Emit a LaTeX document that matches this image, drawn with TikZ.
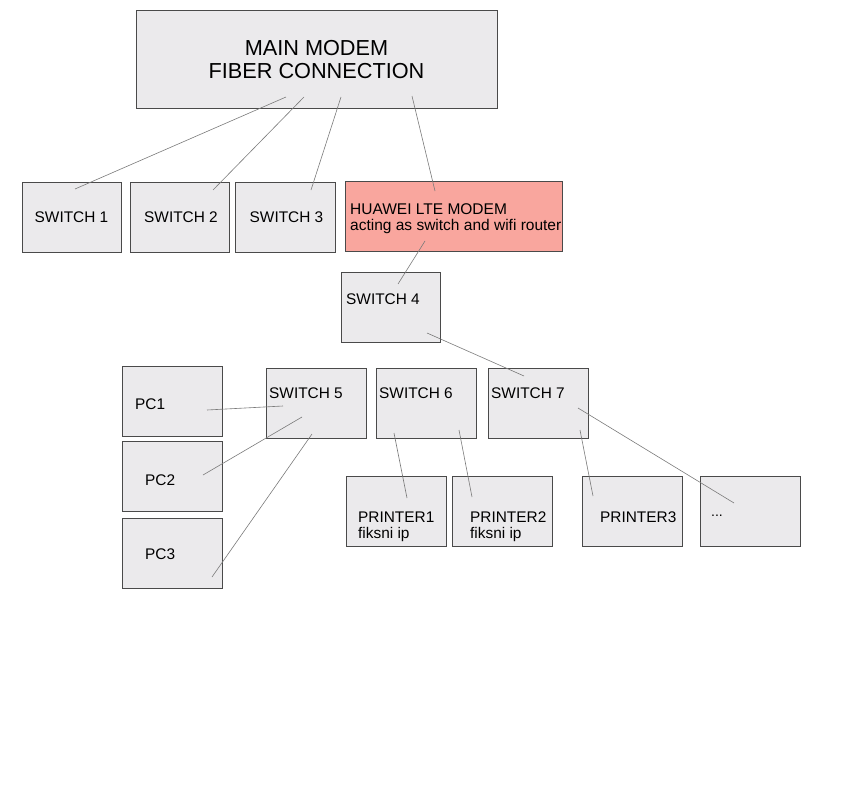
\documentclass[tikz,border=0pt]{standalone}
\usepackage{fontspec}
\setmainfont{Liberation Sans}
\definecolor{boxfill}{HTML}{EBEAEC}
\definecolor{boxdraw}{HTML}{4A4A4A}
\definecolor{lte}{HTML}{F9A69E}
\definecolor{wire}{HTML}{7A7A7A}
\tikzset{
  box/.style={draw=boxdraw, fill=boxfill, line width=0.9pt, rectangle, inner sep=0pt, anchor=north west},
  txt/.style={inner sep=0pt, font=\fontsize{15.4}{16}\selectfont, text=black},
  wireline/.style={draw=wire, line width=0.6pt},
}
\begin{document}
\begin{tikzpicture}[x=1pt,y=-1pt]
\useasboundingbox (0,0) rectangle (862,800);
% boxes
\node[box, minimum width=361pt, minimum height=98pt] (main) at (136,10) {};
\node[box, minimum width=99pt, minimum height=70pt] (sw1) at (22,182) {};
\node[box, minimum width=99pt, minimum height=70pt] (sw2) at (130,182) {};
\node[box, minimum width=100pt, minimum height=70pt] (sw3) at (235,182) {};
\node[box, fill=lte, minimum width=217pt, minimum height=70pt] (lte) at (345,181) {};
\node[box, minimum width=99pt, minimum height=70pt] (sw4) at (341,272) {};
\node[box, minimum width=100pt, minimum height=70pt] (sw5) at (266,368) {};
\node[box, minimum width=100pt, minimum height=70pt] (sw6) at (376,368) {};
\node[box, minimum width=100pt, minimum height=70pt] (sw7) at (488,368) {};
\node[box, minimum width=100pt, minimum height=70pt] (pc1) at (122,366) {};
\node[box, minimum width=100pt, minimum height=70pt] (pc2) at (122,441) {};
\node[box, minimum width=100pt, minimum height=70pt] (pc3) at (122,518) {};
\node[box, minimum width=100pt, minimum height=70pt] (pr1) at (346,476) {};
\node[box, minimum width=100pt, minimum height=70pt] (pr2) at (452,476) {};
\node[box, minimum width=100pt, minimum height=70pt] (pr3) at (582,476) {};
\node[box, minimum width=100pt, minimum height=70pt] (more) at (700,476) {};
% texts
\node[txt, font=\fontsize{21.7}{23}\selectfont, align=center] (maintxt) at (316.5,60) {MAIN MODEM\\FIBER CONNECTION};
\node[txt, anchor=base] (sw1txt) at (71.5,222) {SWITCH 1};
\node[txt, anchor=base] (sw2txt) at (181,222) {SWITCH 2};
\node[txt, anchor=base] (sw3txt) at (286.5,222) {SWITCH 3};
\node[txt, anchor=base west, font=\fontsize{15.5}{16}\selectfont] (ltetxt1) at (350,214.5) {HUAWEI LTE MODEM};
\node[txt, anchor=base west, font=\fontsize{15.5}{16}\selectfont] (ltetxt2) at (350,230.5) {acting as switch and wifi router};
\node[txt, anchor=base west] (sw4txt) at (346,304.5) {SWITCH 4};
\node[txt, anchor=base west] (sw5txt) at (269,398.5) {SWITCH 5};
\node[txt, anchor=base west] (sw6txt) at (379,398.5) {SWITCH 6};
\node[txt, anchor=base west] (sw7txt) at (491,398.5) {SWITCH 7};
\node[txt, anchor=base west] (pc1txt) at (135,409.5) {PC1};
\node[txt, anchor=base west] (pc2txt) at (145,485.5) {PC2};
\node[txt, anchor=base west] (pc3txt) at (145,559.5) {PC3};
\node[txt, anchor=base west] (pr1txt1) at (358,522.5) {PRINTER1};
\node[txt, anchor=base west] (pr1txt2) at (358,538.5) {fiksni ip};
\node[txt, anchor=base west] (pr2txt1) at (470,522.5) {PRINTER2};
\node[txt, anchor=base west] (pr2txt2) at (470,538.5) {fiksni ip};
\node[txt, anchor=base west] (pr3txt) at (600,522.5) {PRINTER3};
\node[txt, anchor=base west, font=\fontsize{14}{14}\selectfont] (moretxt) at (711,516) {...};
% connector end points
\coordinate (m1) at (286,97);  \coordinate (s1) at (75,189);
\coordinate (m2) at (304,97);  \coordinate (s2) at (213,190);
\coordinate (m3) at (341,97);  \coordinate (s3) at (311,190);
\coordinate (m4) at (412,96);  \coordinate (l1) at (435,191);
\coordinate (l2) at (425,241); \coordinate (s4a) at (398,284);
\coordinate (s4b) at (427,333); \coordinate (s7a) at (524,376);
\coordinate (p1) at (207,410); \coordinate (s5a) at (283,406);
\coordinate (p2) at (203,475); \coordinate (s5b) at (302,417);
\coordinate (p3) at (212,577); \coordinate (s5c) at (312,434);
\coordinate (s6a) at (394,433); \coordinate (r1) at (407,498);
\coordinate (s6b) at (459,430); \coordinate (r2) at (472,497);
\coordinate (s7b) at (580,430); \coordinate (r3) at (593,496);
\coordinate (s7c) at (578,408); \coordinate (mo) at (734,503);
% connectors
\draw[wireline] (m1) -- (s1);
\draw[wireline] (m2) -- (s2);
\draw[wireline] (m3) -- (s3);
\draw[wireline] (m4) -- (l1);
\draw[wireline] (l2) -- (s4a);
\draw[wireline] (s4b) -- (s7a);
\draw[wireline] (p1) -- (s5a);
\draw[wireline] (p2) -- (s5b);
\draw[wireline] (p3) -- (s5c);
\draw[wireline] (s6a) -- (r1);
\draw[wireline] (s6b) -- (r2);
\draw[wireline] (s7b) -- (r3);
\draw[wireline] (s7c) -- (mo);
\end{tikzpicture}
\end{document}
